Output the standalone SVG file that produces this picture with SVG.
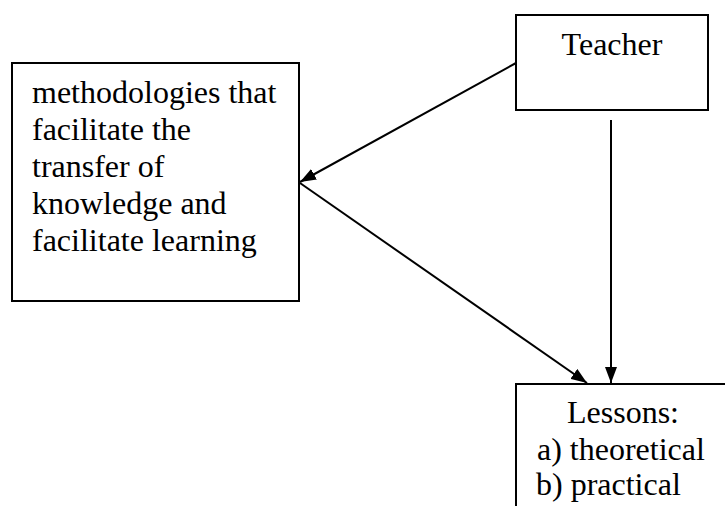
<svg xmlns="http://www.w3.org/2000/svg" width="725" height="506" viewBox="0 0 725 506">
<style>
.box{fill:#fff;stroke:#000;stroke-width:2}
.t{font-family:"Liberation Serif","Times New Roman",serif;font-size:32px;fill:#000}
.c line{stroke:#000;stroke-width:2}
</style>
<defs>
<marker id="ah" viewBox="0 0 16 12" refX="16" refY="6" markerWidth="16" markerHeight="12" markerUnits="userSpaceOnUse" orient="auto">
<path d="M0,0 L16,6 L0,12 Z" fill="#000"/>
</marker>
</defs>
<rect width="725" height="506" fill="#fff"/>
<g id="teacher">
<rect class="box" x="516" y="15" width="192" height="95"/>
<text class="t" x="612" y="55" text-anchor="middle">Teacher</text>
</g>
<g id="methodologies">
<rect class="box" x="12" y="63" width="287" height="238"/>
<text class="t" x="32" y="103">methodologies that</text>
<text class="t" x="32" y="140">facilitate the</text>
<text class="t" x="32" y="177">transfer of</text>
<text class="t" x="32" y="214">knowledge and</text>
<text class="t" x="32" y="251">facilitate learning</text>
</g>
<g id="lessons">
<rect class="box" x="516" y="384" width="220" height="140"/>
<text class="t" x="623" y="423" text-anchor="middle">Lessons:</text>
<text class="t" x="537" y="460">a) theoretical</text>
<text class="t" x="536" y="495">b) practical</text>
</g>
<g class="c" id="connectors">
<line x1="516" y1="63" x2="300" y2="182" marker-end="url(#ah)"/>
<line x1="300" y1="183" x2="587" y2="383" marker-end="url(#ah)"/>
<line x1="611" y1="120" x2="611" y2="383" marker-end="url(#ah)"/>
</g>
</svg>
